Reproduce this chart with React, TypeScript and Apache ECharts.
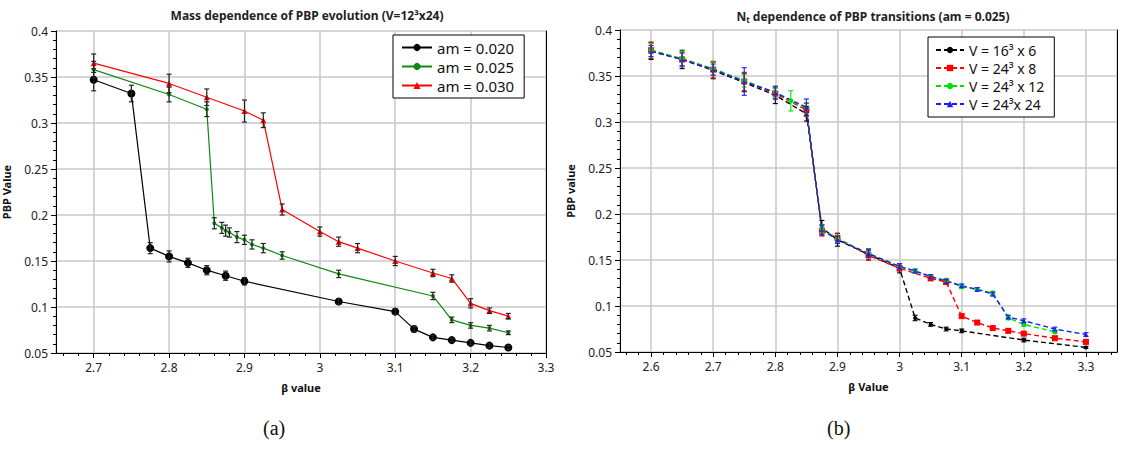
import React, { useEffect, useRef } from "react";
import * as echarts from "echarts";

const FONT = "'Noto Sans', 'DejaVu Sans', sans-serif";

// ---------- Panel (a): mass dependence, V = 12^3 x 24 ----------
const betaAm020 = [2.7, 2.75, 2.775, 2.8, 2.825, 2.85, 2.875, 2.9, 3.025, 3.1, 3.125, 3.15, 3.175, 3.2, 3.225, 3.25];
const pbpAm020 = [0.347, 0.332, 0.164, 0.155, 0.148, 0.140, 0.134, 0.128, 0.106, 0.095, 0.076, 0.067, 0.064, 0.061, 0.058, 0.056];
const errAm020 = [0.012, 0.009, 0.006, 0.006, 0.005, 0.005, 0.005, 0.004, 0.003, 0.003, 0.003, 0.002, 0.002, 0.002, 0.002, 0.002];

const betaAm025 = [2.7, 2.8, 2.85, 2.86, 2.87, 2.875, 2.88, 2.89, 2.9, 2.91, 2.925, 2.95, 3.025, 3.15, 3.175, 3.2, 3.225, 3.25];
const pbpAm025 = [0.358, 0.331, 0.315, 0.191, 0.186, 0.183, 0.181, 0.176, 0.173, 0.168, 0.164, 0.156, 0.136, 0.112, 0.086, 0.080, 0.077, 0.072];
const errAm025 = [0.009, 0.008, 0.008, 0.006, 0.006, 0.006, 0.005, 0.006, 0.005, 0.005, 0.005, 0.004, 0.004, 0.004, 0.003, 0.003, 0.003, 0.002];

const betaAm030 = [2.7, 2.8, 2.85, 2.9, 2.925, 2.95, 3.0, 3.025, 3.05, 3.1, 3.15, 3.175, 3.2, 3.225, 3.25];
const pbpAm030 = [0.365, 0.343, 0.328, 0.313, 0.303, 0.206, 0.182, 0.171, 0.164, 0.150, 0.137, 0.131, 0.104, 0.096, 0.090];
const errAm030 = [0.010, 0.010, 0.009, 0.012, 0.008, 0.006, 0.005, 0.005, 0.005, 0.005, 0.004, 0.004, 0.005, 0.003, 0.003];

// ---------- Panel (b): Nt dependence, am = 0.025 ----------
const betaV16x6 = [2.6, 2.65, 2.7, 2.75, 2.8, 2.85, 2.875, 2.9, 2.95, 3.0, 3.025, 3.05, 3.075, 3.1, 3.2, 3.3];
const pbpV16x6 = [0.377, 0.368, 0.356, 0.343, 0.329, 0.309, 0.185, 0.172, 0.156, 0.141, 0.087, 0.080, 0.075, 0.073, 0.063, 0.055];
const errV16x6 = [0.009, 0.010, 0.009, 0.010, 0.009, 0.008, 0.008, 0.007, 0.006, 0.005, 0.003, 0.002, 0.002, 0.002, 0.002, 0.001];

const betaV24x8 = [2.6, 2.65, 2.7, 2.75, 2.8, 2.85, 2.875, 2.9, 2.95, 3.0, 3.05, 3.075, 3.1, 3.125, 3.15, 3.175, 3.2, 3.25, 3.3];
const pbpV24x8 = [0.378, 0.368, 0.357, 0.344, 0.331, 0.313, 0.182, 0.174, 0.155, 0.141, 0.130, 0.126, 0.089, 0.082, 0.076, 0.073, 0.070, 0.065, 0.061];
const errV24x8 = [0.009, 0.008, 0.009, 0.010, 0.006, 0.007, 0.006, 0.005, 0.005, 0.003, 0.002, 0.002, 0.002, 0.002, 0.002, 0.002, 0.002, 0.002, 0.002];

const betaV24x12 = [2.6, 2.65, 2.7, 2.75, 2.8, 2.825, 2.85, 2.875, 2.9, 2.95, 3.0, 3.025, 3.05, 3.075, 3.1, 3.125, 3.15, 3.175, 3.2, 3.25];
const pbpV24x12 = [0.378, 0.369, 0.358, 0.345, 0.332, 0.323, 0.315, 0.184, 0.173, 0.157, 0.143, 0.138, 0.132, 0.128, 0.121, 0.118, 0.114, 0.087, 0.080, 0.072];
const errV24x12 = [0.007, 0.008, 0.007, 0.007, 0.005, 0.011, 0.006, 0.004, 0.004, 0.004, 0.003, 0.002, 0.002, 0.002, 0.002, 0.002, 0.002, 0.002, 0.002, 0.002];

const betaV24x24 = [2.6, 2.65, 2.7, 2.75, 2.8, 2.85, 2.875, 2.9, 2.95, 3.0, 3.025, 3.05, 3.075, 3.1, 3.125, 3.15, 3.175, 3.2, 3.25, 3.3];
const pbpV24x24 = [0.377, 0.368, 0.357, 0.344, 0.332, 0.316, 0.183, 0.172, 0.157, 0.143, 0.138, 0.132, 0.127, 0.122, 0.118, 0.113, 0.088, 0.084, 0.075, 0.069];
const errV24x24 = [0.006, 0.007, 0.006, 0.015, 0.007, 0.009, 0.005, 0.004, 0.004, 0.003, 0.002, 0.002, 0.002, 0.002, 0.002, 0.002, 0.002, 0.002, 0.002, 0.002];

// minor tick positions on the beta axes
const minorTicksA = [2.66, 2.68, 2.72, 2.74, 2.76, 2.78, 2.82, 2.84, 2.86, 2.88, 2.92, 2.94, 2.96, 2.98, 3.02, 3.04, 3.06, 3.08, 3.12, 3.14, 3.16, 3.18, 3.22, 3.24, 3.26, 3.28];
const minorTicksB = [2.56, 2.58, 2.62, 2.64, 2.66, 2.68, 2.72, 2.74, 2.76, 2.78, 2.82, 2.84, 2.86, 2.88, 2.92, 2.94, 2.96, 2.98, 3.02, 3.04, 3.06, 3.08, 3.12, 3.14, 3.16, 3.18, 3.22, 3.24, 3.26, 3.28, 3.32, 3.34];

const legendA = ["am = 0.020", "am = 0.025", "am = 0.030"];
const legendB = ["V = 16³ x 6", "V = 24³ x 8", "V = 24³ x 12", "V = 24³x 24"];

const zip = (b: number[], v: number[], e: number[]) => b.map((x, i) => [x, v[i], e[i]]);

function errorBars(name: string, xi: number, yi: number, data: number[][], color: string, lw: number) {
  return {
    type: "custom",
    name: name + " err",
    xAxisIndex: xi,
    yAxisIndex: yi,
    z: 5,
    silent: true,
    data,
    encode: { x: 0, y: 1 },
    renderItem: (params: any, api: any) => {
      const x = api.value(0);
      const y = api.value(1);
      const e = api.value(2);
      const t = api.coord([x, y + e]);
      const b = api.coord([x, y - e]);
      const hw = 2.5;
      const st = { stroke: color, lineWidth: lw };
      return {
        type: "group",
        children: [
          { type: "line", shape: { x1: t[0], y1: t[1], x2: b[0], y2: b[1] }, style: st },
          { type: "line", shape: { x1: t[0] - hw, y1: t[1], x2: t[0] + hw, y2: t[1] }, style: st },
          { type: "line", shape: { x1: b[0] - hw, y1: b[1], x2: b[0] + hw, y2: b[1] }, style: st },
        ],
      };
    },
  };
}

function lineSeries(name: string, xi: number, yi: number, data: number[][], color: string, symbol: string, size: number, dashed: boolean, lw: number) {
  return {
    type: "line",
    name,
    xAxisIndex: xi,
    yAxisIndex: yi,
    data: data.map((d) => [d[0], d[1]]),
    symbol,
    symbolSize: size,
    showSymbol: true,
    z: 3,
    itemStyle: { color },
    lineStyle: { color, width: lw, type: dashed ? [5, 3] : "solid" },
    emphasis: { disabled: true },
  };
}

const gridLine = { show: true, lineStyle: { color: "#c8c8c8", width: 1.5 } };
const axisLineBlack = { show: true, lineStyle: { color: "#000", width: 1 } };
const labelStyle = { color: "#222", fontSize: 12, fontFamily: FONT };
const nameStyle = { color: "#111", fontSize: 11, fontWeight: "bold", fontFamily: FONT };

function xAxes(gridIndex: number, min: number, max: number, name: string, minor: number[]) {
  return [
    {
      type: "value",
      gridIndex,
      min,
      max,
      splitNumber: 7,
      name,
      nameLocation: "middle",
      nameGap: 29,
      nameTextStyle: nameStyle,
      axisLine: { ...axisLineBlack, onZero: false },
      axisTick: { show: true, length: 5, lineStyle: { color: "#000" } },
      axisLabel: { ...labelStyle, margin: 8, showMinLabel: false, showMaxLabel: max === 3.3 },
      splitLine: gridLine,
    },
    {
      type: "value",
      gridIndex,
      min,
      max,
      position: "bottom",
      axisLine: { show: false, onZero: false },
      axisTick: { show: true, length: 3, customValues: minor, lineStyle: { color: "#000" } },
      axisLabel: { show: false },
      splitLine: { show: false },
    },
  ];
}

function yAxes(gridIndex: number, name: string, nameGap: number) {
  return [
    {
      type: "value",
      gridIndex,
      min: 0.05,
      max: 0.4,
      interval: 0.05,
      name,
      nameLocation: "middle",
      nameGap,
      nameTextStyle: nameStyle,
      axisLine: { ...axisLineBlack, onZero: false },
      axisTick: { show: true, length: 5, lineStyle: { color: "#000" } },
      minorTick: { show: true, splitNumber: 5, length: 3, lineStyle: { color: "#000" } },
      axisLabel: { ...labelStyle, margin: 8 },
      splitLine: gridLine,
    },
    {
      type: "value",
      gridIndex,
      min: 0.05,
      max: 0.4,
      position: "right",
      axisLine: { ...axisLineBlack, onZero: false },
      axisTick: { show: false },
      axisLabel: { show: false },
      splitLine: { show: false },
    },
  ];
}

export default function App() {
  const ref = useRef<HTMLDivElement>(null);
  useEffect(() => {
    if (!ref.current) return;
    const chart = echarts.init(ref.current, undefined, { renderer: "svg" });

    const dA020 = zip(betaAm020, pbpAm020, errAm020);
    const dA025 = zip(betaAm025, pbpAm025, errAm025);
    const dA030 = zip(betaAm030, pbpAm030, errAm030);
    const dB6 = zip(betaV16x6, pbpV16x6, errV16x6);
    const dB8 = zip(betaV24x8, pbpV24x8, errV24x8);
    const dB12 = zip(betaV24x12, pbpV24x12, errV24x12);
    const dB24 = zip(betaV24x24, pbpV24x24, errV24x24);

    const cA = ["#000000", "#118811", "#ff0000"];
    const cB = ["#000000", "#ff0000", "#00e000", "#1a1aff"];

    chart.setOption({
      animation: false,
      backgroundColor: "#ffffff",
      textStyle: { fontFamily: FONT },
      title: [
        {
          text: "Mass dependence of PBP evolution (V=12³x24)",
          left: 302,
          top: 4,
          textAlign: "center",
          textStyle: { fontSize: 12, fontWeight: "bold", color: "#222", fontFamily: FONT },
        },
        {
          text: "{n|N}{s|t}{n| dependence of PBP transitions (am = 0.025)}",
          left: 868,
          top: 4,
          textAlign: "center",
          textStyle: {
            rich: {
              n: { fontSize: 12, fontWeight: "bold", color: "#222", fontFamily: FONT },
              s: { fontSize: 8, fontWeight: "bold", color: "#222", fontFamily: FONT, verticalAlign: "bottom", padding: [6, 0, 0, 0] },
            },
          },
        },
      ],
      legend: [
        {
          data: legendA,
          left: 393,
          top: 35,
          orient: "vertical",
          backgroundColor: "#fff",
          borderColor: "#000",
          borderWidth: 1,
          borderRadius: 0,
          padding: [5, 10, 5, 8],
          itemGap: 4,
          itemWidth: 30,
          itemHeight: 9,
          textStyle: { fontSize: 15, color: "#111", fontFamily: FONT, lineHeight: 15 },
        },
        {
          data: legendB,
          left: 928,
          top: 37,
          orient: "vertical",
          backgroundColor: "#fff",
          borderColor: "#000",
          borderWidth: 1,
          borderRadius: 0,
          padding: [6, 10, 6, 7],
          itemGap: 4,
          itemWidth: 28,
          itemHeight: 8,
          textStyle: { fontSize: 14, color: "#111", fontFamily: FONT, lineHeight: 14 },
        },
      ],
      grid: [
        { left: 55, top: 31, width: 491, height: 322 },
        { left: 620, top: 30, width: 497, height: 322 },
      ],
      xAxis: [
        ...xAxes(0, 2.65, 3.3, "β value", minorTicksA),
        ...xAxes(1, 2.55, 3.35, "β Value", minorTicksB),
      ],
      yAxis: [...yAxes(0, "PBP Value", 44), ...yAxes(1, "PBP value", 44)],
      graphic: [
        { type: "text", left: 263, top: 418, style: { text: "(a)", fontSize: 20, fontFamily: "'Liberation Serif', serif", fill: "#111" } },
        { type: "text", left: 827, top: 418, style: { text: "(b)", fontSize: 20, fontFamily: "'Liberation Serif', serif", fill: "#111" } },
      ],
      series: [
        lineSeries(legendA[0], 0, 0, dA020, cA[0], "circle", 8, false, 1.2),
        lineSeries(legendA[1], 0, 0, dA025, cA[1], "circle", 4, false, 1.2),
        lineSeries(legendA[2], 0, 0, dA030, cA[2], "triangle", 6, false, 1.2),
        errorBars(legendA[0], 0, 0, dA020, "#222", 1.2),
        errorBars(legendA[1], 0, 0, dA025, "#222", 1.2),
        errorBars(legendA[2], 0, 0, dA030, "#222", 1.2),

        lineSeries(legendB[0], 2, 2, dB6, cB[0], "circle", 4, true, 1.4),
        lineSeries(legendB[1], 2, 2, dB8, cB[1], "rect", 6, true, 1.4),
        lineSeries(legendB[2], 2, 2, dB12, cB[2], "circle", 5, true, 1.4),
        lineSeries(legendB[3], 2, 2, dB24, cB[3], "triangle", 5, true, 1.4),
        errorBars(legendB[0], 2, 2, dB6, cB[0], 1.1),
        errorBars(legendB[1], 2, 2, dB8, cB[1], 1.1),
        errorBars(legendB[2], 2, 2, dB12, cB[2], 1.1),
        errorBars(legendB[3], 2, 2, dB24, cB[3], 1.1),
      ],
    });
    return () => chart.dispose();
  }, []);

  return (
    <div
      ref={ref}
      style={{ position: "absolute", left: 0, top: 0, width: 1121, height: 449, background: "#fff" }}
    />
  );
}
